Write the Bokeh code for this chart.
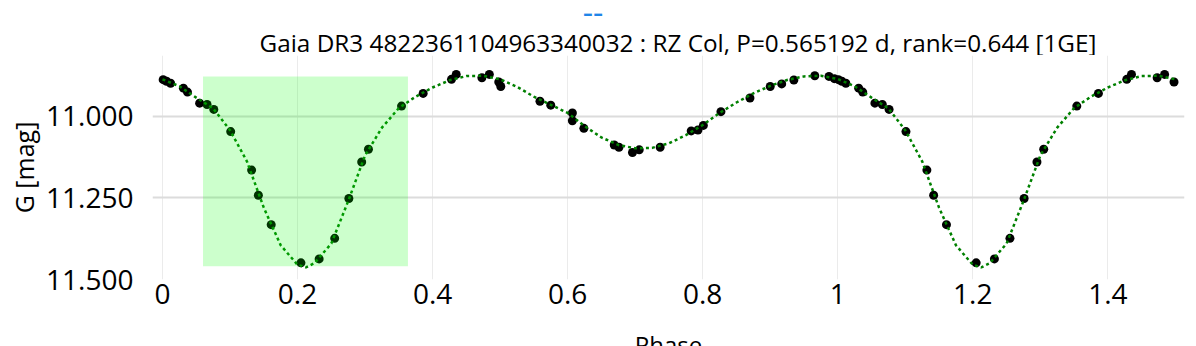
from bokeh.plotting import figure
from bokeh.layouts import column
from bokeh.models import Range1d, FixedTicker, Label
from bokeh.embed import file_html
from bokeh.resources import INLINE

# ---------------- data ----------------
title_text = "Gaia DR3 4822361104963340032 : RZ Col, P=0.565192 d, rank=0.644 [1GE]"
x_label = "Phase"
y_label = "G [mag]"
legend_mark = "--"

phase = [0.001, 0.006, 0.012, 0.031, 0.037, 0.055, 0.066, 0.076, 0.101, 0.132,
         0.142, 0.161, 0.205, 0.232, 0.255, 0.276, 0.295, 0.305, 0.354, 0.386,
         0.428, 0.435, 0.473, 0.484, 0.498, 0.501, 0.559, 0.575, 0.607, 0.607,
         0.624, 0.669, 0.676, 0.696, 0.706, 0.737, 0.783, 0.793, 0.801, 0.827,
         0.870, 0.900, 0.917, 0.935, 0.966, 0.987, 0.995]
mag = [10.888, 10.893, 10.899, 10.914, 10.926, 10.960, 10.964, 10.979, 11.047, 11.165,
       11.242, 11.332, 11.449, 11.437, 11.374, 11.252, 11.140, 11.101, 10.969, 10.930,
       10.887, 10.872, 10.882, 10.872, 10.895, 10.909, 10.954, 10.966, 10.990, 11.014,
       11.037, 11.088, 11.095, 11.111, 11.103, 11.095, 11.045, 11.042, 11.028, 10.986,
       10.944, 10.909, 10.901, 10.889, 10.876, 10.878, 10.885]

model_phase = [0.000, 0.025, 0.050, 0.075, 0.100, 0.125, 0.150, 0.175, 0.200, 0.2125,
               0.225, 0.250, 0.275, 0.300, 0.325, 0.350, 0.375, 0.400, 0.425, 0.450,
               0.475, 0.500, 0.525, 0.550, 0.575, 0.600, 0.625, 0.650, 0.675, 0.700,
               0.725, 0.750, 0.775, 0.800, 0.825, 0.850, 0.875, 0.900, 0.925, 0.950,
               0.975, 1.000]
model_mag = [10.887, 10.908, 10.943, 10.976, 11.043, 11.138, 11.280, 11.395, 11.455, 11.463,
             11.450, 11.390, 11.260, 11.120, 11.035, 10.975, 10.940, 10.912, 10.890, 10.877,
             10.876, 10.887, 10.910, 10.940, 10.965, 10.990, 11.030, 11.065, 11.088, 11.098,
             11.097, 11.083, 11.058, 11.027, 10.990, 10.958, 10.930, 10.907, 10.889, 10.878,
             10.876, 10.886]

eclipse_phase = [0.060, 0.3635]
eclipse_mag = [10.878, 11.4596]

x_ticks = [0, 0.2, 0.4, 0.6, 0.8, 1, 1.2, 1.4]
x_tick_labels = ["0", "0.2", "0.4", "0.6", "0.8", "1", "1.2", "1.4"]
y_ticks = [11.0, 11.25, 11.5]
y_tick_labels = ["11.000", "11.250", "11.500"]
x_limits = [-0.0148, 1.5135]
y_limits = [11.5, 10.814]

# fold: repeat the first half cycle after phase 1
px = phase + [v + 1 for v in phase if v < 0.5]
py = mag + [m for v, m in zip(phase, mag) if v < 0.5]
mx = model_phase + [v + 1 for v in model_phase if 0 < v <= 0.5]
my = model_mag + [m for v, m in zip(model_phase, model_mag) if 0 < v <= 0.5]

FONT = "Open Sans"
W = 1190
LEFT = 152
FRAME_W = 1032
FRAME_H = 224
HEAD_H = 55
MAIN_H = 274
FOOT_H = 346 - HEAD_H - MAIN_H


def blank(h):
    return figure(width=W, height=h, output_backend="svg", toolbar_location=None,
                  x_axis_type=None, y_axis_type=None, min_border=0,
                  min_border_left=LEFT, min_border_right=W - LEFT - FRAME_W,
                  outline_line_color=None, x_range=Range1d(0, 1), y_range=Range1d(0, 1),
                  background_fill_color="white", border_fill_color="white")


# ---------------- header: legend mark + title ----------------
# (label screen units are measured from the frame's bottom-left corner)
head = blank(HEAD_H)
head.add_layout(Label(x=440.5, y=HEAD_H - 11, x_units="screen", y_units="screen",
                      text=legend_mark, text_color="#1f85e8", text_font=FONT,
                      text_font_size="32px", text_align="center",
                      text_baseline="alphabetic"))
head.add_layout(Label(x=525.5, y=13.5, x_units="screen", y_units="screen",
                      text=title_text, text_font=FONT, text_font_size="24.3px",
                      text_color="black", text_align="center",
                      text_baseline="alphabetic"))

# ---------------- main plot ----------------
p = figure(width=W, height=MAIN_H, output_backend="svg", toolbar_location=None,
           x_range=Range1d(*x_limits), y_range=Range1d(*y_limits),
           min_border_left=LEFT, min_border_right=W - LEFT - FRAME_W, min_border_top=0,
           min_border_bottom=MAIN_H - FRAME_H, background_fill_color="white",
           border_fill_color="white", outline_line_color=None)

p.scatter(px, py, size=9, color="black", line_color=None)
p.line(mx, my, line_color="#008000", line_width=2.5, line_dash="3 3")
p.quad(left=[eclipse_phase[0]], right=[eclipse_phase[1]],
       top=[eclipse_mag[0]], bottom=[eclipse_mag[1]],
       fill_color="#00ff00", fill_alpha=0.2, line_color=None)

for ax in (p.xaxis[0], p.yaxis[0]):
    ax.axis_line_color = None
    ax.major_tick_line_color = None
    ax.minor_tick_line_color = None
    ax.major_tick_out = 0
    ax.major_tick_in = 0
    ax.major_label_text_font = FONT
    ax.major_label_text_color = "black"
    ax.axis_label_text_font = FONT
    ax.axis_label_text_font_style = "normal"
    ax.axis_label_text_color = "black"

p.xaxis.ticker = FixedTicker(ticks=x_ticks)
p.xaxis.major_label_overrides = dict(zip(x_ticks, x_tick_labels))
p.xaxis.major_label_text_font_size = "28px"
p.xaxis.major_label_standoff = 4

p.yaxis.ticker = FixedTicker(ticks=y_ticks)
p.yaxis.major_label_overrides = dict(zip(y_ticks, y_tick_labels))
p.yaxis.major_label_text_font_size = "28px"
p.yaxis.major_label_standoff = 19
p.yaxis.axis_label = y_label
p.yaxis.axis_label_text_font_size = "25px"
p.yaxis.axis_label_standoff = 2

p.xgrid.grid_line_color = "#ebebeb"
p.xgrid.grid_line_width = 1
p.ygrid.grid_line_color = "#dcdcdc"
p.ygrid.grid_line_width = 2

# ---------------- footer: x axis title, cut by the window edge as in the original ----------------
foot = blank(FOOT_H)
foot.add_layout(Label(x=FRAME_W / 2, y=2.4, x_units="screen", y_units="screen",
                      text=x_label, text_font=FONT, text_font_size="24px",
                      text_color="black", text_align="center",
                      text_baseline="alphabetic"))

layout = column(head, p, foot, spacing=0)
open("out.html", "w").write(file_html(layout, INLINE))
